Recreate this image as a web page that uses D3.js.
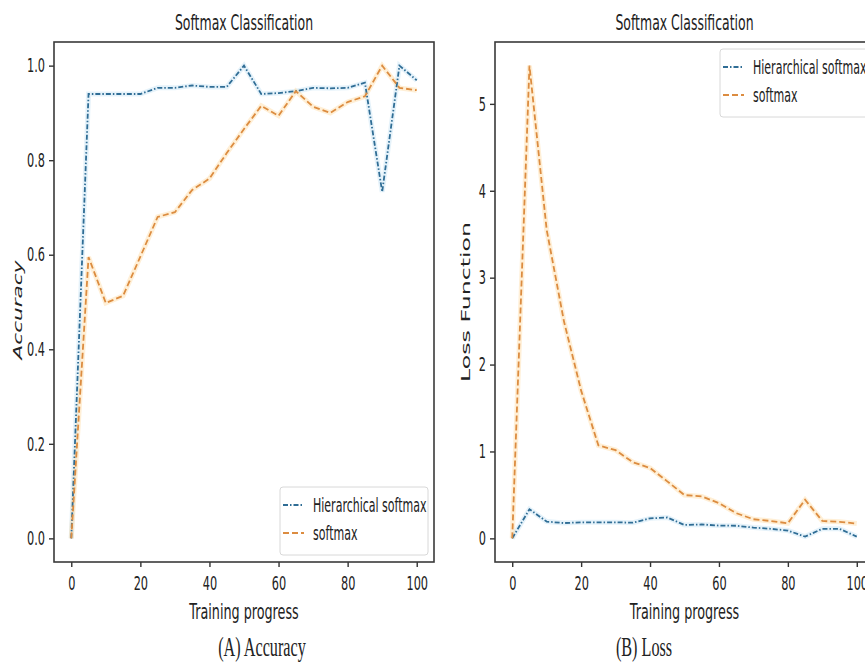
<!DOCTYPE html>
<html>
<head>
<meta charset="utf-8">
<script src="https://cdn.jsdelivr.net/npm/d3@7"></script>
<style>
  body { margin: 0; background: #fff; }
  svg { display: block; }
  text { font-family: "DejaVu Sans", sans-serif; fill: #222; }
</style>
</head>
<body>
<svg id="chart" width="865" height="662"></svg>
<script>
// training progress (x) shared by both panels
const progress = [0, 5, 10, 15, 20, 25, 30, 35, 40, 45, 50, 55, 60, 65, 70, 75, 80, 85, 90, 95, 100]

// panel A: accuracy
const accHier = [0, 0.94, 0.94, 0.94, 0.94, 0.953, 0.953, 0.958, 0.955, 0.955, 1.0, 0.94, 0.942, 0.946, 0.953, 0.952, 0.953, 0.964, 0.733, 1.0, 0.969]
const accSoft = [0, 0.595, 0.498, 0.513, 0.596, 0.68, 0.69, 0.737, 0.761, 0.815, 0.866, 0.915, 0.894, 0.946, 0.913, 0.9, 0.923, 0.935, 1.0, 0.953, 0.948]

// panel B: loss
const lossHier = [0, 0.335, 0.193, 0.176, 0.185, 0.185, 0.185, 0.18, 0.23, 0.24, 0.154, 0.16, 0.147, 0.145, 0.124, 0.11, 0.09, 0.02, 0.11, 0.11, 0.02]
const lossSoft = [0, 5.44, 3.55, 2.5, 1.7, 1.07, 1.015, 0.876, 0.81, 0.656, 0.498, 0.483, 0.405, 0.29, 0.22, 0.2, 0.174, 0.444, 0.2, 0.19, 0.17]

const seriesNames = ["Hierarchical softmax", "softmax"]
const xTicks = [0, 20, 40, 60, 80, 100]
const accTicks = [0, 0.2, 0.4, 0.6, 0.8, 1.0]
const lossTicks = [0, 1, 2, 3, 4, 5]

const blue = "#2f6d95"
const orange = "#dc8c40"
const squeeze = 0.58   // the source picture is stretched tall, text looks narrow

const svg = d3.select("#chart")

function pad(ext) {
    const m = (ext[1] - ext[0]) * 0.05
    return [ext[0] - m, ext[1] + m]
}

function label(g, x, y, str, size, opts = {}) {
    const k = opts.k || squeeze
    const t = g.append("text")
        .attr("transform", opts.rotate
            ? `translate(${x},${y}) rotate(-90) scale(1,${k})`
            : `translate(${x},${y}) scale(${k},1)`)
        .attr("text-anchor", "middle")
        .style("font-size", size + "px")
        .text(str)
    if (opts.family) t.style("font-family", opts.family)
    if (opts.italic) t.style("font-style", "italic")
    if (opts.len) t.attr("textLength", opts.len).attr("lengthAdjust", "spacingAndGlyphs")
    return t
}

function squeezeTicks(sel) {
    sel.selectAll(".tick text").each(function () {
        const t = d3.select(this)
        const x = +t.attr("x") || 0
        t.attr("x", x / squeeze).attr("transform", `scale(${squeeze},1)`)
    })
}

function drawPanel(p) {
    const x = d3.scaleLinear().domain(pad(d3.extent(progress))).range([p.left, p.right])
    const all = p.hier.concat(p.soft)
    const y = d3.scaleLinear().domain(pad(d3.extent(all))).range([p.bottom, p.top])

    const g = svg.append("g")

    const line = d3.line().x((d, i) => x(progress[i])).y(d => y(d))

    // soft glow like the blurry source
    g.append("path").datum(p.hier).attr("d", line)
        .attr("fill", "none").attr("stroke", "#a9d3ef").attr("stroke-width", 5).attr("opacity", 0.3)
    g.append("path").datum(p.soft).attr("d", line)
        .attr("fill", "none").attr("stroke", "#ffd08a").attr("stroke-width", 5).attr("opacity", 0.35)

    g.append("path").datum(p.hier).attr("d", line)
        .attr("fill", "none").attr("stroke", blue).attr("stroke-width", 1.8)
        .attr("stroke-dasharray", "5,2,1.5,2")
    g.append("path").datum(p.soft).attr("d", line)
        .attr("fill", "none").attr("stroke", orange).attr("stroke-width", 1.8)
        .attr("stroke-dasharray", "6,3")

    // axes
    const xAxis = g.append("g").attr("transform", `translate(0,${p.bottom})`)
        .call(d3.axisBottom(x).tickValues(xTicks).tickSize(5).tickPadding(9).tickFormat(d3.format("d")))
    const yAxis = g.append("g").attr("transform", `translate(${p.left},0)`)
        .call(d3.axisLeft(y).tickValues(p.yTicks).tickSize(5).tickPadding(4).tickFormat(p.yFormat))
    ;[xAxis, yAxis].forEach(a => {
        a.select(".domain").remove()
        a.selectAll(".tick line").attr("stroke", "#333").attr("stroke-width", 1.4)
        a.selectAll(".tick text").style("font-size", "19.5px").attr("fill", "#222")
            .style("font-family", "'DejaVu Sans', sans-serif")
        squeezeTicks(a)
    })

    // frame
    g.append("rect")
        .attr("x", p.left).attr("y", p.top)
        .attr("width", p.right - p.left).attr("height", p.bottom - p.top)
        .attr("fill", "none").attr("stroke", "#3a3a3a").attr("stroke-width", 1.6)

    const cx = (p.left + p.right) / 2
    label(g, cx, 30, "Softmax Classification", 21.5)
    label(g, cx, 619, "Training progress", 22)
    label(g, p.capX, 656, p.caption, 27, { family: "'Liberation Serif', serif", k: 0.6 })
    label(g, p.ylabelX, p.ylabelY, p.ylabel, 22, { rotate: true, italic: p.italic, len: p.ylabelLen })

    // legend
    const lg = g.append("g").attr("transform", `translate(${p.legX},${p.legY})`)
    lg.append("rect").attr("width", 148).attr("height", 68).attr("rx", 3)
        .attr("fill", "#fff").attr("fill-opacity", 0.85)
        .attr("stroke", "#d8d8d8").attr("stroke-width", 1)
    const styles = [
        { c: blue, dash: "5,2,1.5,2" },
        { c: orange, dash: "6,3" }
    ]
    seriesNames.forEach((name, i) => {
        const yy = 18 + i * 28
        lg.append("line").attr("x1", 3).attr("x2", 24).attr("y1", yy).attr("y2", yy)
            .attr("stroke", styles[i].c).attr("stroke-width", 1.8).attr("stroke-dasharray", styles[i].dash)
        lg.append("text")
            .attr("transform", `translate(33,${yy}) scale(${squeeze},1)`)
            .attr("dy", "0.36em")
            .style("font-size", "19px")
            .text(name)
    })
}

drawPanel({
    left: 54, right: 434, top: 42, bottom: 562,
    hier: accHier, soft: accSoft,
    yTicks: accTicks, yFormat: d3.format(".1f"),
    ylabel: "Accuracy", italic: true, ylabelX: 22, ylabelY: 310, ylabelLen: 99,
    caption: "(A) Accuracy", capX: 262,
    legX: 280, legY: 487
})

drawPanel({
    left: 495, right: 874, top: 42, bottom: 562,
    hier: lossHier, soft: lossSoft,
    yTicks: lossTicks, yFormat: d3.format("d"),
    ylabel: "Loss Function", italic: false, ylabelX: 470, ylabelY: 302, ylabelLen: 160,
    caption: "(B) Loss", capX: 644,
    legX: 720, legY: 49
})
</script>
</body>
</html>
